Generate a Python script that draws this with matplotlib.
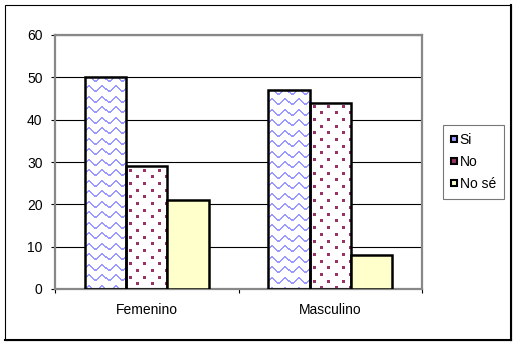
import matplotlib
matplotlib.use("Agg")
import matplotlib.pyplot as plt
import numpy as np
from matplotlib.patches import Rectangle
from matplotlib.lines import Line2D

plt.rcParams['font.family'] = ['Liberation Sans', 'DejaVu Sans']

categories = ["Femenino", "Masculino"]
series_names = ["Si", "No", "No sé"]
values_si = [50, 47]
values_no = [29, 44]
values_nose = [21, 8]
yticks = [0, 10, 20, 30, 40, 50, 60]

W, H = 514, 343
fig = plt.figure(figsize=(W / 100, H / 100), dpi=100)
fig.patch.set_facecolor("white")

ax = fig.add_axes([55 / W, 1 - 289 / H, (422 - 55) / W, (289 - 35) / H])
ax.set_xlim(-0.5, 1.5)
ax.set_ylim(0, 60)


def wave_texture(w, h):
    img = np.ones((h, w, 4))
    col = np.array([0x99, 0x99, 0xFF]) / 255
    period, row = 13.0, 10.5
    xs = np.arange(w)
    off = np.round(2.5 * (1 + np.cos(2 * np.pi * (xs + 3) / period))).astype(int)
    y0 = 2.0
    while y0 < h + 6:
        for x in xs:
            for t in (0, 1):
                y = int(y0) + off[x] + t - 4
                if 0 <= y < h:
                    img[y, x, :3] = col
        y0 += row
    return img


def dot_texture(w, h):
    img = np.ones((h, w, 4))
    col = np.array([0x99, 0x33, 0x66]) / 255
    r = 0
    y = 3.0
    while y < h:
        x = 3.0 + (7.0 if r % 2 else 0.0)
        while x < w - 2:
            img[int(y):int(y) + 3, int(x):int(x) + 3, :3] = col
            x += 14.0
        y += 6.7
        r += 1
    return img


x = np.arange(len(categories))
bw = 0.225
series = [values_si, values_no, values_nose]
faces = ["none", "none", "#FFFFCC"]
textures = [wave_texture, dot_texture, None]

for i, (vals, fc, tex) in enumerate(zip(series, faces, textures)):
    bars = ax.bar(x + (i - 1) * bw, vals, bw, facecolor=fc, edgecolor="black",
                  linewidth=1.8, zorder=3)
    if tex is None:
        continue
    for b in bars:
        ext = b.get_window_extent()
        img = tex(max(int(round(ext.width)), 1), max(int(round(ext.height)), 1))
        ax.imshow(img, extent=(b.get_x(), b.get_x() + b.get_width(), 0, b.get_height()),
                  aspect="auto", interpolation="nearest", zorder=2.5)

ax.set_xlim(-0.5, 1.5)
ax.set_ylim(0, 60)

ax.set_yticks(yticks)
ax.yaxis.grid(True, color="black", linewidth=0.8)
ax.set_axisbelow(True)
ax.tick_params(axis="y", length=3, pad=6, labelsize=10, color="black", width=0.8)
ax.set_xticks(x)
ax.set_xticklabels(categories)
ax.tick_params(axis="x", which="major", length=0, pad=10, labelsize=10)
ax.set_xticks([-0.5, 0.5, 1.5], minor=True)
ax.tick_params(axis="x", which="minor", length=3, color="black", width=0.8)

for s in ax.spines.values():
    s.set_color("#888888")
    s.set_linewidth(1.6)

# legend with small boxed swatches
handles = [Line2D([], [], marker="s", linestyle="none", markersize=5,
                  markerfacecolor=c, markeredgecolor="black", markeredgewidth=1.5)
           for c in ["#9999FF", "#993366", "#FFFFCC"]]
leg = fig.legend(handles, series_names, loc="upper left",
                 bbox_to_anchor=(443 / W, 1 - 125 / H), fontsize=10,
                 frameon=True, fancybox=False, handlelength=0.5, handletextpad=0.15,
                 labelspacing=0.6, borderpad=0.55, borderaxespad=0)
leg.get_frame().set_edgecolor("#555555")
leg.get_frame().set_linewidth(0.8)

# chart border
fig.add_artist(Rectangle((5 / W, 1 - 340 / H), 506 / W, 335 / H, transform=fig.transFigure,
                         fill=False, edgecolor="black", linewidth=0.8))
fig.add_artist(Line2D([511 / W, 511 / W], [1 - 340 / H, 1 - 5 / H], transform=fig.transFigure,
                      color="black", linewidth=1.5))
fig.add_artist(Line2D([5 / W, 511 / W], [1 - 340 / H, 1 - 340 / H], transform=fig.transFigure,
                      color="black", linewidth=1.5))

fig.savefig("out.png", dpi=100)
